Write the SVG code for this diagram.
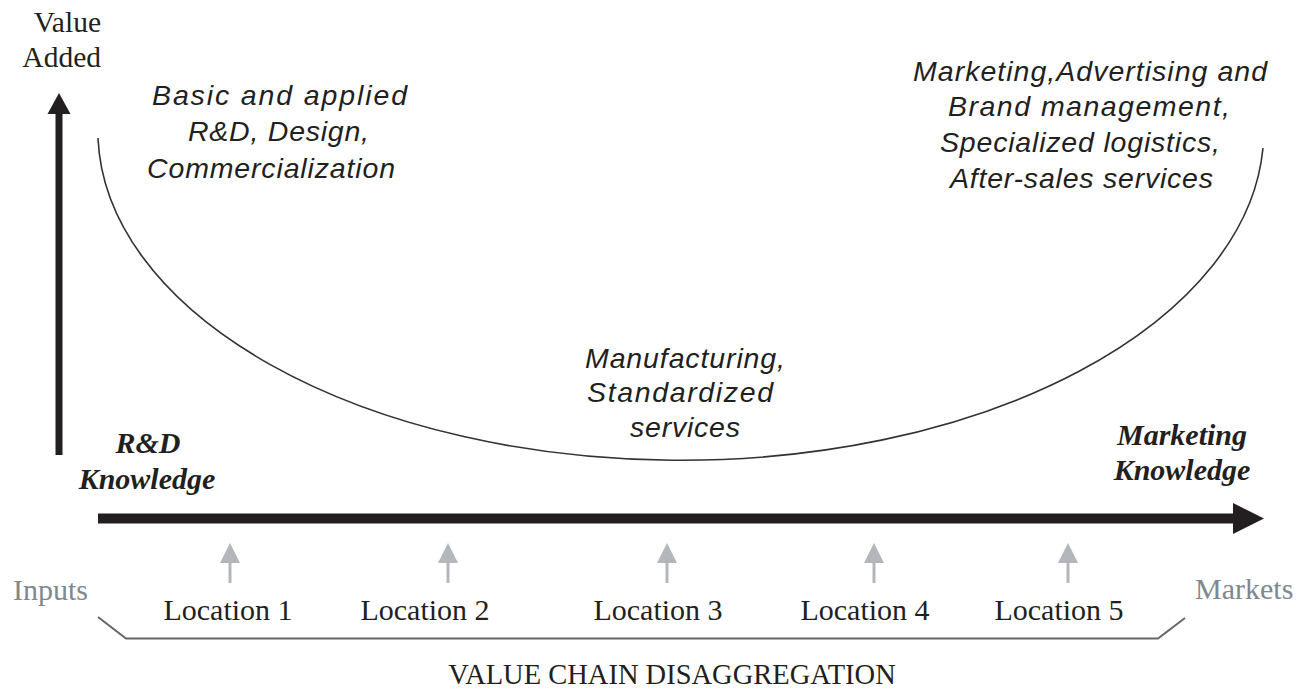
<svg xmlns="http://www.w3.org/2000/svg" width="1297" height="691" viewBox="0 0 1297 691">
<style>
.serif{font-family:"Liberation Serif","Times New Roman",serif;fill:#231f20;}
.loc{font-size:30px;text-anchor:middle;}
.gray{fill:#7d8891;font-size:30px;}
.know{font-family:"Liberation Serif","Times New Roman",serif;font-size:30px;font-style:italic;font-weight:bold;fill:#231f20;text-anchor:middle;}
.act{font-family:"Liberation Sans",Arial,sans-serif;font-size:28.5px;font-style:italic;fill:#231f20;}
.garrow{stroke:#b3b6ba;stroke-width:3;}
.ghead{fill:#b3b6ba;}
</style>
<rect width="1297" height="691" fill="#ffffff"/>
<g id="axes">
  <rect x="55.5" y="110" width="7" height="345" fill="#231f20"/>
  <polygon points="59,93 47.5,114 70.5,114" fill="#231f20"/>
  <rect x="98" y="513.5" width="1137" height="10" fill="#231f20"/>
  <polygon points="1264,518.5 1233,503 1233,534" fill="#231f20"/>
</g>
<g id="curve">
  <path d="M98,138 A583,330 0 0 0 1263,148" fill="none" stroke="#333333" stroke-width="1.6"/>
</g>
<g id="value-added">
  <text class="serif" font-size="29.5" text-anchor="end" x="101" y="32">Value</text>
  <text class="serif" font-size="29.5" text-anchor="end" x="101" y="67">Added</text>
</g>
<g id="rd-activities">
  <text class="act" x="152" y="105" textLength="255" lengthAdjust="spacing">Basic and applied</text>
  <text class="act" x="188" y="141" textLength="181" lengthAdjust="spacing">R&amp;D, Design,</text>
  <text class="act" x="147" y="178" textLength="248" lengthAdjust="spacing">Commercialization</text>
</g>
<g id="marketing-activities">
  <text class="act" x="913" y="81" textLength="354" lengthAdjust="spacing">Marketing,Advertising and</text>
  <text class="act" x="948" y="116" textLength="282" lengthAdjust="spacing">Brand management,</text>
  <text class="act" x="940" y="152" textLength="280" lengthAdjust="spacing">Specialized logistics,</text>
  <text class="act" x="950" y="188" textLength="263" lengthAdjust="spacing">After-sales services</text>
</g>
<g id="manufacturing">
  <text class="act" x="585" y="368" textLength="200" lengthAdjust="spacing">Manufacturing,</text>
  <text class="act" x="587" y="402" textLength="186" lengthAdjust="spacing">Standardized</text>
  <text class="act" x="630" y="437" textLength="110" lengthAdjust="spacing">services</text>
</g>
<g id="rd-knowledge">
  <text class="know" x="148" y="453">R&amp;D</text>
  <text class="know" x="147" y="489">Knowledge</text>
</g>
<g id="marketing-knowledge">
  <text class="know" x="1182" y="445">Marketing</text>
  <text class="know" x="1182" y="480">Knowledge</text>
</g>
<g id="connectors">
  <g>
    <line class="garrow" x1="230" y1="583" x2="230" y2="560"/>
    <polygon class="ghead" points="230,543 220,563 240,563"/>
    <line class="garrow" x1="448" y1="583" x2="448" y2="560"/>
    <polygon class="ghead" points="448,543 438,563 458,563"/>
    <line class="garrow" x1="667" y1="583" x2="667" y2="560"/>
    <polygon class="ghead" points="667,543 657,563 677,563"/>
    <line class="garrow" x1="874" y1="583" x2="874" y2="560"/>
    <polygon class="ghead" points="874,543 864,563 884,563"/>
    <line class="garrow" x1="1068" y1="583" x2="1068" y2="560"/>
    <polygon class="ghead" points="1068,543 1058,563 1078,563"/>
  </g>
  <polyline points="98,617 126,638.5 1158,638.5 1185,618" fill="none" stroke="#666666" stroke-width="2"/>
</g>
<g id="inputs"><text class="serif gray" x="13" y="600">Inputs</text></g>
<g id="markets"><text class="serif gray" x="1195" y="599">Markets</text></g>
<g id="locations">
  <text class="serif loc" x="228" y="620">Location 1</text>
  <text class="serif loc" x="425" y="620">Location 2</text>
  <text class="serif loc" x="658" y="620">Location 3</text>
  <text class="serif loc" x="865" y="620">Location 4</text>
  <text class="serif loc" x="1059" y="620">Location 5</text>
</g>
<g id="title">
  <text class="serif" font-size="28.5" text-anchor="middle" x="672" y="684">VALUE CHAIN DISAGGREGATION</text>
</g>
</svg>
